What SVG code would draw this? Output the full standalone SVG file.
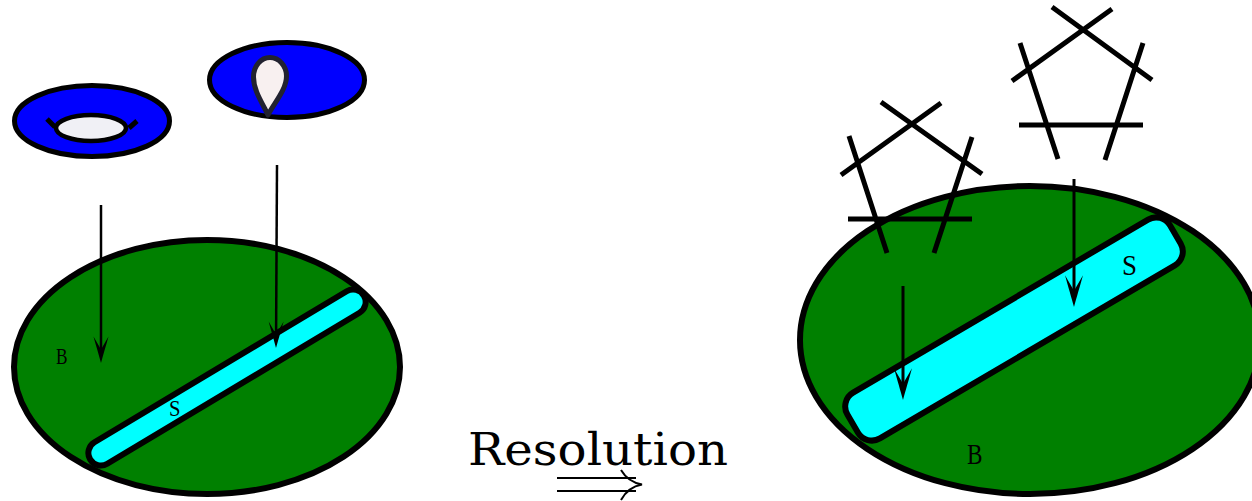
<svg xmlns="http://www.w3.org/2000/svg" width="1252" height="501" viewBox="0 0 1252 501">
<style>
.blue{fill:#0000ff;stroke:#000;stroke-width:5}
.green{fill:#008000;stroke:#000;stroke-width:6}
.cyan{fill:#00ffff;stroke:#000;stroke-width:6}
.pl{stroke:#000;stroke-width:5;fill:none}
.lbl{font-family:"Liberation Serif","DejaVu Serif",serif;fill:#000}
.title{font-family:"DejaVu Serif","Liberation Serif",serif;fill:#000}
.conn{stroke:#000;fill:none}
.dbl{stroke:#000;stroke-width:2;fill:none}
</style>
<defs>
<marker id="ah" markerUnits="strokeWidth" markerWidth="14" markerHeight="8" viewBox="-12 -4 14 8" refX="-3" refY="0" orient="auto" overflow="visible">
<path d="M0,0 C-3,-0.8 -7,-2 -10.6,-3 L-5.4,0 L-10.6,3 C-7,2 -3,0.8 0,0 Z" fill="#000"/>
</marker>
</defs>
<rect width="1252" height="501" fill="#fff"/>

<g id="donut">
<ellipse class="blue" cx="92" cy="121" rx="77.5" ry="35.5"/>
<ellipse cx="91" cy="128" rx="35" ry="13" fill="#f0f0f5" stroke="#000" stroke-width="4.5"/>
<path class="pl" d="M47,119 L55,127 M137,121 L129,128"/>
</g>

<g id="teardrop-disc">
<ellipse class="blue" cx="287" cy="80" rx="77.5" ry="37.5"/>
<path d="M268,115 C263,104 253.5,91 253.5,77 C253.5,66 261,57.5 270,57.5 C279,57.5 286.5,66 286.5,76 C286.5,90 274,103 268,115 Z" fill="#f8f0f0" stroke="#222230" stroke-width="5" stroke-linejoin="round"/>
</g>

<g id="left-B">
<ellipse class="green" cx="207" cy="367" rx="193" ry="127"/>
<text class="lbl" x="56" y="364" font-size="24" textLength="11.5" lengthAdjust="spacingAndGlyphs">B</text>
</g>
<g id="left-S">
<rect class="cyan" x="-159.5" y="-12.5" width="319" height="25" rx="12.5" transform="translate(227 377.5) rotate(-30.9)"/>
<text class="lbl" x="169" y="416" font-size="24" textLength="11.5" lengthAdjust="spacingAndGlyphs">S</text>
</g>

<g id="right-B">
<ellipse class="green" cx="1030" cy="340" rx="230" ry="154"/>
<text class="lbl" x="967" y="464" font-size="30" textLength="15.5" lengthAdjust="spacingAndGlyphs">B</text>
</g>
<g id="right-S">
<rect class="cyan" x="-187" y="-26.5" width="374" height="53" rx="16" transform="translate(1014 329) rotate(-30.4)"/>
<text class="lbl" x="1122" y="275" font-size="30" textLength="15" lengthAdjust="spacingAndGlyphs">S</text>
</g>

<g id="pentagon-1">
<path class="pl" d="M881,102 L982,174 M941,103 L841,175 M849,136 L887,253 M972,137 L934,253 M848,219 L972,219"/>
</g>
<g id="pentagon-2">
<path class="pl" d="M1052,7 L1152,80 M1112,9 L1012,81 M1020,43 L1058,159 M1143,43 L1105,160 M1019,125 L1143,125"/>
</g>

<g id="connectors">
<line class="conn" stroke-width="2.5" x1="101" y1="205" x2="101" y2="355.5" marker-end="url(#ah)"/>
<line class="conn" stroke-width="2.5" x1="277" y1="165" x2="276.05" y2="340.5" marker-end="url(#ah)"/>
<line class="conn" stroke-width="3" x1="903" y1="286" x2="903" y2="391" marker-end="url(#ah)"/>
<line class="conn" stroke-width="3" x1="1074" y1="179" x2="1074" y2="298" marker-end="url(#ah)"/>
</g>

<g id="resolution">
<text class="title" x="468" y="465" font-size="45" textLength="260" lengthAdjust="spacingAndGlyphs">Resolution</text>
<path class="dbl" d="M557,478 H636 M557,491 H636 M621,470 Q628,482 642,484.5 Q628,487 621,500"/>
</g>
</svg>
